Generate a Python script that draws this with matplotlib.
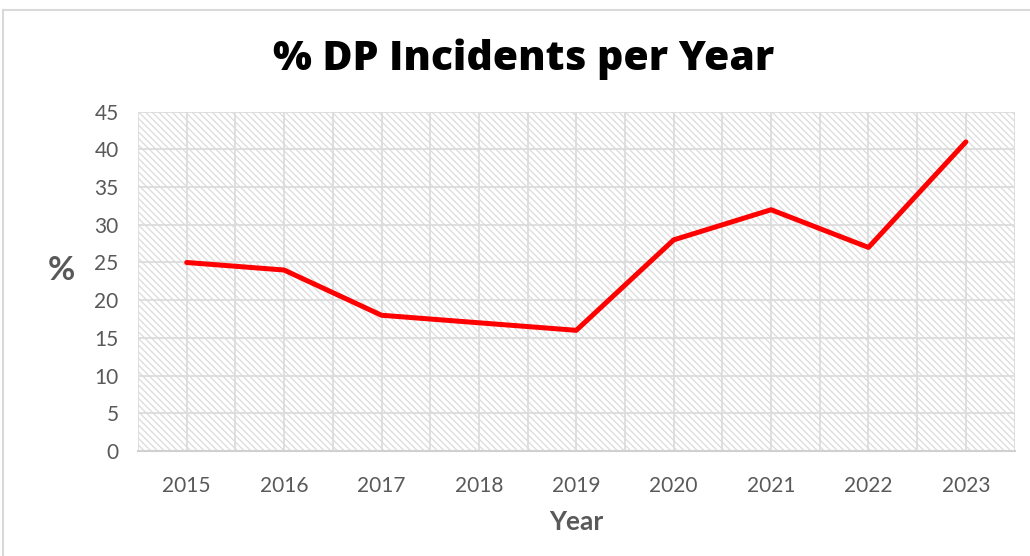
import matplotlib
matplotlib.use('Agg')
import matplotlib.pyplot as plt
from matplotlib.patches import Rectangle
from matplotlib.lines import Line2D
from matplotlib.ticker import MultipleLocator

years = ['2015', '2016', '2017', '2018', '2019', '2020', '2021', '2022', '2023']
pct = [25, 24, 18, 17, 16, 28, 32, 27, 41]

plt.rcParams['font.family'] = ['Lato', 'DejaVu Sans']
plt.rcParams['hatch.linewidth'] = 1.0

fig = plt.figure(figsize=(10.30, 5.56), dpi=100)
ax = fig.add_axes([0.134, 0.189, 0.851, 0.610])

# hatched plot background
bg = Rectangle((0, 0), 1, 1, transform=ax.transAxes, facecolor='white',
               edgecolor='#dedede', hatch='\\\\\\\\\\', lw=0, zorder=0)
ax.add_patch(bg)

x = list(range(1, len(years) + 1))
ax.plot(x, pct, color='#ff0000', lw=3.6, solid_capstyle='round', zorder=3)

ax.set_xlim(0.5, len(years) + 0.5)
ax.set_ylim(0, 45)
ax.set_xticks(x)
ax.set_xticklabels(years)
ax.xaxis.set_minor_locator(MultipleLocator(0.5))
ax.yaxis.set_major_locator(MultipleLocator(5))
ax.grid(True, which='both', axis='x', color='#dcdcdc', lw=1.3, zorder=1)
ax.grid(True, which='major', axis='y', color='#dcdcdc', lw=1.3, zorder=1)
ax.set_axisbelow(True)

for s in ['top', 'right', 'left']:
    ax.spines[s].set_visible(False)
ax.spines['bottom'].set_color('#d0d0d0')
ax.spines['bottom'].set_linewidth(1.5)

ax.tick_params(axis='both', which='both', length=0, labelsize=15, labelcolor='#595959')
ax.tick_params(axis='x', pad=18)
ax.tick_params(axis='y', pad=14)

ax.set_xlabel('Year', fontsize=19, fontweight='bold', color='#595959', labelpad=10)
ax.set_ylabel('%', fontsize=24, fontweight='bold', color='#595959', rotation=0,
              labelpad=0)
ax.yaxis.set_label_coords(-0.087, 0.49)

fig.suptitle('% DP Incidents per Year', x=0.508, y=0.93, fontsize=29.5,
             fontweight='heavy', family=['Open Sans', 'DejaVu Sans'], color='black')

# outer chart border
fig.add_artist(Line2D([3/1030, 1.0], [1 - 10/556, 1 - 10/556],
                      transform=fig.transFigure, color='#d9d9d9', lw=1.5))
fig.add_artist(Line2D([3/1030, 3/1030], [0, 1 - 10/556],
                      transform=fig.transFigure, color='#d9d9d9', lw=1.5))

fig.savefig('out.png', dpi=100)
